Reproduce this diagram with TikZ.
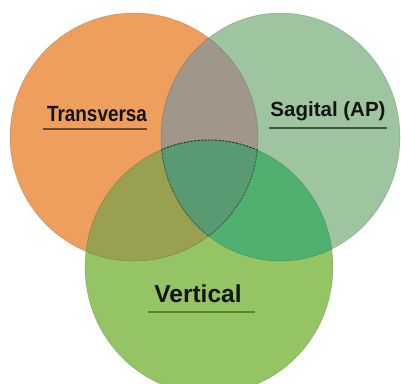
\documentclass[tikz,border=0pt]{standalone}
\usepackage{fontspec}
\setmainfont{Liberation Sans}
\begin{document}
\begin{tikzpicture}[x=1pt,y=1pt]
\definecolor{cO}{RGB}{238,159,93}
\definecolor{cS}{RGB}{158,196,160}
\definecolor{cV}{RGB}{148,196,100}
\definecolor{cOS}{RGB}{160,150,138}
\definecolor{cOV}{RGB}{153,160,80}
\definecolor{cSV}{RGB}{80,176,112}
\definecolor{cOSV}{RGB}{90,154,114}
\definecolor{ulO}{RGB}{105,72,52}
\definecolor{ulS}{RGB}{62,86,66}
\definecolor{ulV}{RGB}{88,132,52}
\definecolor{txt}{RGB}{20,20,20}
\tikzset{
  pO/.style={insert path={(134,246) ellipse [x radius=124pt, y radius=124pt]}},
  pS/.style={insert path={(280.5,246) ellipse [x radius=119.5pt, y radius=124pt]}},
  pV/.style={insert path={(209,116) ellipse [x radius=124pt, y radius=127pt]}},
  rim/.style={draw=black, draw opacity=0.16, line width=0.6pt},
  seam/.style={draw=black, draw opacity=0.65, line width=0.9pt, dash pattern=on 2pt off 1.5pt},
  lbl/.style={font=\bfseries, text=txt, inner sep=0pt, anchor=base},
  ul/.style={line width=2pt}
}
\useasboundingbox (0,0) rectangle (401,383);
\fill[white] (0,0) rectangle (401,383);
% base discs
\fill[cO, pO];
\fill[cS, pS];
\fill[cV, pV];
% pairwise overlaps
\begin{scope}\clip[pO]; \fill[cOS, pS];\end{scope}
\begin{scope}\clip[pO]; \fill[cOV, pV];\end{scope}
\begin{scope}\clip[pS]; \fill[cSV, pV];\end{scope}
% triple overlap
\begin{scope}\clip[pO]; \clip[pS]; \fill[cOSV, pV];\end{scope}
% outlines
\path[rim, pO];
\path[rim, pS];
\path[rim, pV];
% dashed seams of the centre region
\begin{scope}\clip[pO]; \clip[pS]; \path[seam, pV];\end{scope}
\begin{scope}\clip[pV]; \clip[pO]; \path[seam, draw opacity=0.3, pS];\end{scope}
\begin{scope}\clip[pV]; \clip[pS]; \path[seam, draw opacity=0.3, pO];\end{scope}
% labels
\node[lbl, font=\fontsize{22}{24}\selectfont\bfseries] (tr) at (97,261) {\scalebox{0.86}[1]{Transversa}};
\node[lbl, font=\fontsize{20.5}{24}\selectfont\bfseries] (sa) at (328,266) {Sagital (AP)};
\node[lbl, font=\fontsize{24.5}{28}\selectfont\bfseries] (ve) at (198,81) {Vertical};
% underlines
\coordinate (tr1) at (43,253.5); \coordinate (tr2) at (147,253.5);
\coordinate (sa1) at (269,255); \coordinate (sa2) at (387,255);
\coordinate (ve1) at (148,71); \coordinate (ve2) at (255,71);
\draw[ul, ulO] (tr1) -- (tr2);
\draw[ul, ulS] (sa1) -- (sa2);
\draw[ul, ulV] (ve1) -- (ve2);
\end{tikzpicture}
\end{document}
